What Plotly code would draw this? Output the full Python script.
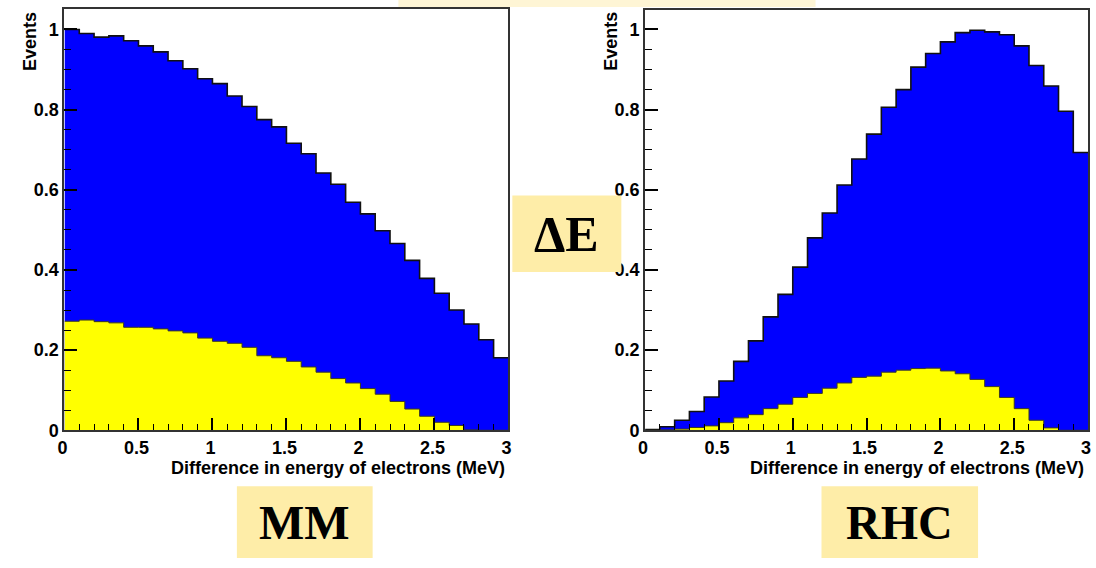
import plotly.graph_objects as go

# ---------------- data ----------------
bin_edges = [0.0, 0.1, 0.2, 0.3, 0.4, 0.5, 0.6, 0.7, 0.8, 0.9, 1.0,
             1.1, 1.2, 1.3, 1.4, 1.5, 1.6, 1.7, 1.8, 1.9, 2.0,
             2.1, 2.2, 2.3, 2.4, 2.5, 2.6, 2.7, 2.8, 2.9, 3.0]

mm_total = [1.000, 0.990, 0.981, 0.984, 0.972, 0.959, 0.944, 0.922, 0.902, 0.877,
            0.865, 0.834, 0.808, 0.775, 0.757, 0.716, 0.690, 0.642, 0.614, 0.569,
            0.540, 0.498, 0.466, 0.424, 0.379, 0.342, 0.300, 0.265, 0.226, 0.181]
mm_part = [0.272, 0.275, 0.271, 0.268, 0.257, 0.257, 0.253, 0.248, 0.243, 0.230,
           0.222, 0.217, 0.207, 0.186, 0.181, 0.172, 0.158, 0.145, 0.129, 0.118,
           0.104, 0.090, 0.072, 0.053, 0.035, 0.020, 0.012, 0.001, 0.0, 0.0]

rhc_total = [0.002, 0.009, 0.025, 0.047, 0.083, 0.123, 0.172, 0.223, 0.283, 0.339,
             0.407, 0.480, 0.542, 0.612, 0.677, 0.739, 0.806, 0.850, 0.906, 0.940,
             0.969, 0.992, 0.998, 0.994, 0.987, 0.959, 0.910, 0.859, 0.796, 0.693]
rhc_part = [0.0, 0.001, 0.003, 0.007, 0.011, 0.019, 0.031, 0.039, 0.054, 0.065,
            0.082, 0.092, 0.105, 0.118, 0.132, 0.135, 0.145, 0.150, 0.154, 0.155,
            0.148, 0.141, 0.127, 0.109, 0.082, 0.054, 0.025, 0.006, 0.0, 0.0]

x_ticks = [0, 0.5, 1, 1.5, 2, 2.5, 3]
x_tick_labels = ["0", "0.5", "1", "1.5", "2", "2.5", "3"]
y_ticks = [0, 0.2, 0.4, 0.6, 0.8, 1.0]
y_tick_labels = ["0", "0.2", "0.4", "0.6", "0.8", "1"]

y_title = "Events"
x_title = "Difference in energy of electrons (MeV)"
panel_labels = ["MM", "RHC"]
middle_label = "ΔE"

# ---------------- figure ----------------
W, H = 1096, 568
BLUE = "#0000FF"
YELLOW = "#FFFF00"
BOX = "#FEEDA8"


def step_xy(vals):
    return bin_edges, list(vals) + [vals[-1]]


fig = go.Figure()
for axis_id, total, part in [("", mm_total, mm_part), ("2", rhc_total, rhc_part)]:
    xs, ys = step_xy(total)
    fig.add_trace(go.Scatter(x=xs, y=ys, mode="lines", line_shape="hv",
                             fill="tozeroy", fillcolor=BLUE,
                             line=dict(color="#111111", width=1.6),
                             xaxis="x" + axis_id, yaxis="y" + axis_id,
                             hoverinfo="skip"))
    xs, ys = step_xy(part)
    fig.add_trace(go.Scatter(x=xs, y=ys, mode="lines", line_shape="hv",
                             fill="tozeroy", fillcolor=YELLOW,
                             line=dict(color="#3a3a20", width=1),
                             xaxis="x" + axis_id, yaxis="y" + axis_id,
                             hoverinfo="skip"))

tickfont = dict(family="Liberation Sans, Arial, sans-serif", size=18,
                color="black", weight="bold")


def xaxis(dom, anchor):
    return dict(domain=dom, anchor=anchor, range=[0, 3],
                tickmode="array", tickvals=x_ticks, ticktext=x_tick_labels,
                ticks="inside", ticklen=12, tickwidth=1.5, tickcolor="black",
                ticklabelshift=-2,
                minor=dict(tickmode="array",
                           tickvals=[e for e in bin_edges],
                           ticks="inside", ticklen=6, tickwidth=1.2,
                           tickcolor="black", showgrid=False),
                showline=True, linecolor="#333333", linewidth=2, mirror=True,
                showgrid=False, zeroline=False, tickfont=tickfont,
                fixedrange=True)


def yaxis(dom, anchor, top):
    minor_vals = [round(0.05 * i, 2) for i in range(0, 21)]
    return dict(domain=dom, anchor=anchor, range=[0, top],
                tickmode="array", tickvals=y_ticks, ticktext=y_tick_labels,
                ticks="inside", ticklen=13, tickwidth=1.5, tickcolor="black",
                minor=dict(tickmode="array", tickvals=minor_vals,
                           ticks="inside", ticklen=7, tickwidth=1.2,
                           tickcolor="black", showgrid=False),
                showline=True, linecolor="#333333", linewidth=2, mirror=True,
                showgrid=False, zeroline=False, tickfont=tickfont,
                fixedrange=True)


fig.update_layout(
    width=W, height=H,
    margin=dict(l=0, r=0, t=0, b=0),
    paper_bgcolor="white", plot_bgcolor="white",
    showlegend=False,
    xaxis=xaxis([58 / W, 506 / W], "y"),
    yaxis=yaxis([1 - 438 / H, 1 - 9 / H], "x", 429 / 408),
    xaxis2=xaxis([644 / W, 1091 / W], "y2"),
    yaxis2=yaxis([1 - 438 / H, 1 - 10 / H], "x2", 428 / 408),
)

afont = dict(family="Liberation Sans, Arial, sans-serif", size=18,
             color="black", weight="bold")
# axis titles (ROOT style: at the end of the axes)
for x_px, right_px in [(24, 505), (610, 1089)]:
    fig.add_annotation(text=y_title, textangle=-90, xref="paper", yref="paper",
                       x=x_px / W, y=1 - 10 / H, xanchor="center", yanchor="top",
                       showarrow=False, font=afont)
    fig.add_annotation(text=x_title, xref="paper", yref="paper",
                       x=right_px / W, y=1 - 476 / H, xanchor="right",
                       yanchor="middle", showarrow=False, font=afont)

# yellow label boxes
lfont = dict(family="Liberation Serif, Times New Roman, serif", size=48,
             color="black", weight="bold")
boxes = [(panel_labels[0], 232, 369, 495, 568, 48),
         (panel_labels[1], 822, 980, 495, 568, 48),
         (middle_label, 510, 620, 199, 277, 50)]
for text, x0, x1, y0, y1, fs in boxes:
    fig.add_shape(type="rect", xref="paper", yref="paper",
                  x0=x0 / W, x1=x1 / W, y0=1 - y1 / H, y1=1 - y0 / H,
                  fillcolor=BOX, line=dict(width=0), layer="above")
    f = dict(lfont)
    f["size"] = fs
    fig.add_annotation(text=text, xref="paper", yref="paper",
                       x=(x0 + x1) / 2 / W, y=1 - (y0 + y1) / 2 / H,
                       xanchor="center", yanchor="middle",
                       showarrow=False, font=f)

# faint cut-off box at top
fig.add_shape(type="rect", xref="paper", yref="paper",
              x0=395 / W, x1=816 / W, y0=1 - 7 / H, y1=1.0,
              fillcolor="#FEF5D5", line=dict(width=0), layer="above")

fig.write_html("out.html")
